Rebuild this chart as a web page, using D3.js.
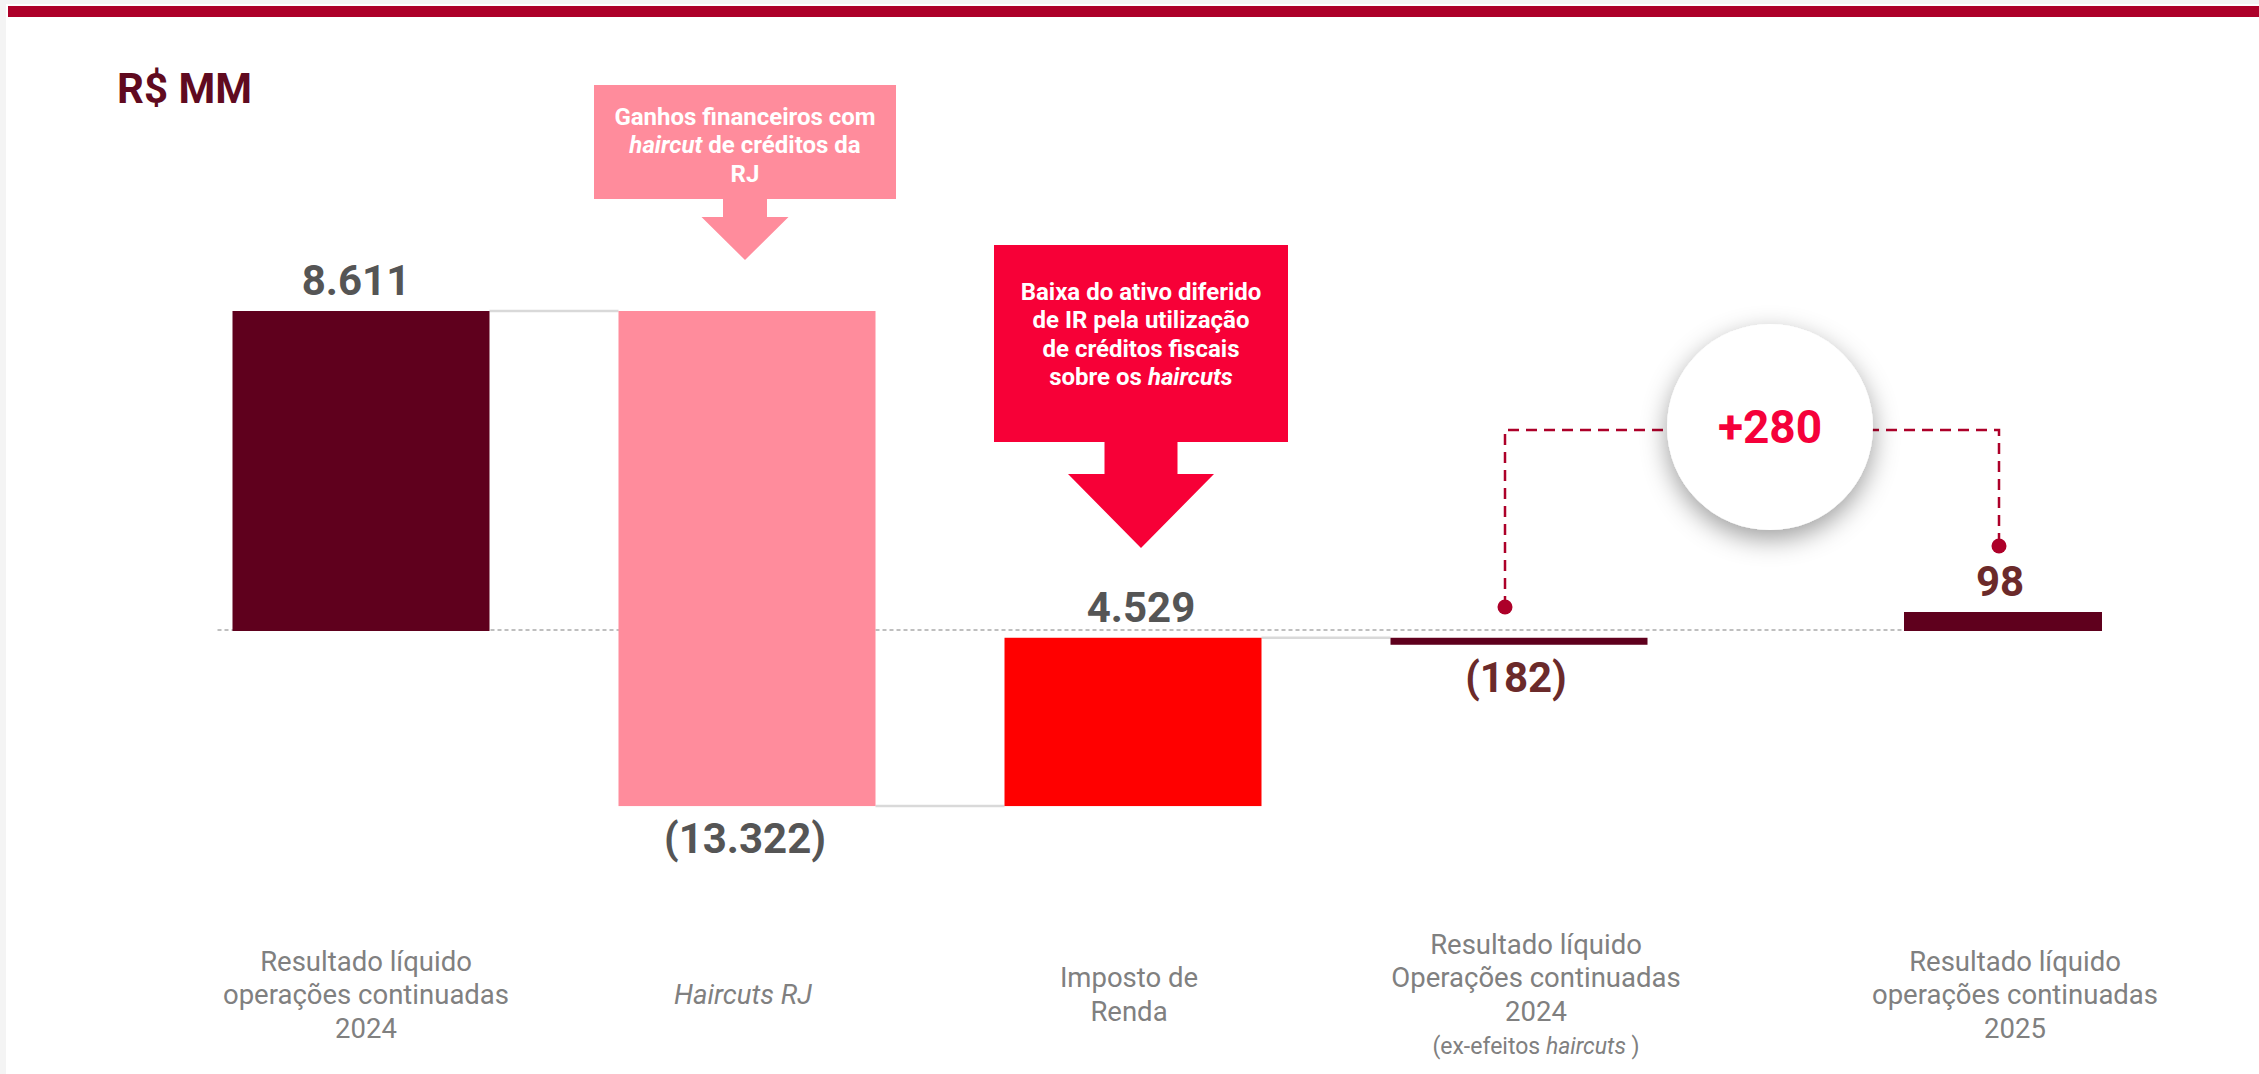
<!DOCTYPE html>
<html>
<head>
<meta charset="utf-8">
<script src="https://cdn.jsdelivr.net/npm/d3@7"></script>
<style>
  body { margin: 0; background: #f4f4f4; }
  svg { display: block; font-family: Roboto, "Open Sans", sans-serif; }
</style>
</head>
<body>
<svg id="chart-svg" width="2259" height="1074"></svg>
<script>
// Chart data (R$ MM)
const categories = ["res2024", "haircuts", "imposto", "res2024ex", "res2025"];
const values = [8611, -13322, 4529, -182, 98];
const barKinds = ["total", "delta", "delta", "total", "total"];

const categoryLabels = [
  ["Resultado líquido", "operações continuadas", "2024"],
  ["*Haircuts RJ*"],
  ["Imposto de", "Renda"],
  ["Resultado líquido", "Operações continuadas", "2024", "(ex-efeitos *haircuts* )"],
  ["Resultado líquido", "operações continuadas", "2025"]
];

const calloutTexts = [
  ["Ganhos financeiros com", "*haircut* de créditos da", "RJ"],
  ["Baixa do ativo diferido", "de IR pela utilização", "de créditos fiscais", "sobre os *haircuts*"]
];
const calloutCategories = ["haircuts", "imposto"];

const width = 2259;
const height = 1074;
const svg = d3.select("#chart-svg");

/**
 * Write a line of text where *words* are set in italic
 */
function richText(sel, line) {
  line.split("*").forEach((part, i) => {
    if (part === "") return;
    sel.append("tspan")
      .attr("font-style", i % 2 ? "italic" : "normal")
      .text(part);
  });
}

// Page frame and banner
svg.append("rect").attr("x", 6).attr("y", 4).attr("width", width).attr("height", height).attr("fill", "#fff");
svg.append("rect").attr("x", 8).attr("y", 6).attr("width", width).attr("height", 11).attr("fill", "#ad0029");

svg.append("text")
  .attr("x", 117).attr("y", 103)
  .attr("font-size", 42).attr("font-weight", 700)
  .attr("fill", "#600a20")
  .text("R$ MM");

// Scales
const x = d3.scaleOrdinal().domain(categories).range([361, 747, 1133, 1519, 2003]);
const barWidth = d3.scaleOrdinal().domain(categories).range([257, 257, 257, 257, 198]);
const minBarPx = d3.scaleOrdinal().domain(categories).range([0, 0, 0, 7, 19]);
const barColor = d3.scaleOrdinal().domain(categories).range(["#5f001d", "#ff8c9c", "#ff0000", "#5f001d", "#5f001d"]);
const labelColor = d3.scaleOrdinal().domain(categories).range(["#555555", "#555555", "#555555", "#6b2a2a", "#6b2a2a"]);
const valueShift = d3.scaleOrdinal().domain(categories).range([-5, -2, 8, -3, -3]);
const y = d3.scaleLinear().domain([0, d3.max(values)]).range([631, 311]);

const locale = d3.formatLocale({decimal: ",", thousands: ".", grouping: [3], currency: ["R$", ""]});
const fmt = locale.format(",d");
const fmtValue = v => v < 0 ? "(" + fmt(-v) + ")" : fmt(v);

// Waterfall steps
let running = 0;
const steps = values.map((v, i) => {
  const start = barKinds[i] === "delta" ? running : 0;
  const end = start + v;
  running = end;
  const span = Math.abs(y(end) - y(start));
  const h = Math.max(span, minBarPx(categories[i]));
  let top;
  if (end >= start) top = y(start) - h;
  else top = span < h ? y(end) : y(start);   // thin negative bars hang from their end level
  return {key: categories[i], value: v, start: start, end: end, top: top, bottom: top + h};
});

// Zero line
const first = categories[0], last = categories[categories.length - 1];
svg.append("line")
  .attr("x1", x(first) - barWidth(first) / 2 - 15)
  .attr("x2", x(last) + barWidth(last) / 2)
  .attr("y1", y(0) - 1).attr("y2", y(0) - 1)
  .attr("stroke", "#aaaaaa").attr("stroke-width", 1.5)
  .attr("stroke-dasharray", "4,3");

// Connectors between bars
svg.selectAll(".connector")
  .data(steps.slice(0, 3))
  .enter().append("line")
  .attr("class", "connector")
  .attr("x1", d => x(d.key) + barWidth(d.key) / 2)
  .attr("x2", (d, i) => x(steps[i + 1].key) - barWidth(steps[i + 1].key) / 2)
  .attr("y1", d => y(d.end)).attr("y2", d => y(d.end))
  .attr("stroke", "#d9d9d9").attr("stroke-width", 2.5);

// Bars
svg.selectAll(".bar")
  .data(steps)
  .enter().append("rect")
  .attr("class", "bar")
  .attr("x", d => x(d.key) - barWidth(d.key) / 2)
  .attr("width", d => barWidth(d.key))
  .attr("y", d => d.top)
  .attr("height", d => d.bottom - d.top)
  .attr("fill", d => barColor(d.key));

// Value labels
svg.selectAll(".value-label")
  .data(steps)
  .enter().append("text")
  .attr("class", "value-label")
  .attr("x", d => x(d.key) + valueShift(d.key))
  .attr("y", d => d.value < 0 ? d.bottom + 47 : d.top - 16)
  .attr("text-anchor", "middle")
  .attr("font-size", 42).attr("font-weight", 700)
  .attr("fill", d => labelColor(d.key))
  .text(d => fmtValue(d.value));

// Callout arrows
const calloutStyle = [
  {dx: -2, top: 85, w: 302, h: 114, stemW: 44, stemH: 18, headW: 87, headH: 43, fill: "#ff8c9c", firstLine: 40},
  {dx: 8, top: 245, w: 294, h: 197, stemW: 73, stemH: 32, headW: 146, headH: 74, fill: "#f70037", firstLine: 55}
];

calloutTexts.forEach((lines, i) => {
  const s = calloutStyle[i];
  const cx = x(calloutCategories[i]) + s.dx;
  const p = d3.path();
  p.moveTo(cx - s.w / 2, s.top);
  p.lineTo(cx + s.w / 2, s.top);
  p.lineTo(cx + s.w / 2, s.top + s.h);
  p.lineTo(cx + s.stemW / 2, s.top + s.h);
  p.lineTo(cx + s.stemW / 2, s.top + s.h + s.stemH);
  p.lineTo(cx + s.headW / 2, s.top + s.h + s.stemH);
  p.lineTo(cx, s.top + s.h + s.stemH + s.headH);
  p.lineTo(cx - s.headW / 2, s.top + s.h + s.stemH);
  p.lineTo(cx - s.stemW / 2, s.top + s.h + s.stemH);
  p.lineTo(cx - s.stemW / 2, s.top + s.h);
  p.lineTo(cx - s.w / 2, s.top + s.h);
  p.closePath();
  svg.append("path").attr("d", p.toString()).attr("fill", s.fill);

  lines.forEach((line, j) => {
    const t = svg.append("text")
      .attr("x", cx)
      .attr("y", s.top + s.firstLine + j * 28.3)
      .attr("text-anchor", "middle")
      .attr("font-size", 24).attr("font-weight", 700)
      .attr("fill", "#ffffff");
    richText(t, line);
  });
});

// Bracket between 2024 ex-haircuts and 2025
const defs = svg.append("defs");
const shadow = defs.append("filter").attr("id", "circle-shadow")
  .attr("x", "-50%").attr("y", "-50%").attr("width", "200%").attr("height", "200%");
shadow.append("feDropShadow")
  .attr("dx", 0).attr("dy", 9).attr("stdDeviation", 13)
  .attr("flood-color", "#000").attr("flood-opacity", 0.38);

const lx = x("res2024ex") - 14;
const rx = x("res2025") - 4;
const bracketY = 430;
const leftDotY = y(0) - 24;
const rightDotY = steps[4].top - 66;

svg.append("path")
  .attr("d", `M${lx},${leftDotY}V${bracketY}H${rx}V${rightDotY}`)
  .attr("fill", "none")
  .attr("stroke", "#ad0029").attr("stroke-width", 2.5)
  .attr("stroke-dasharray", "11,7");

svg.selectAll(".bracket-dot")
  .data([[lx, leftDotY], [rx, rightDotY]])
  .enter().append("circle")
  .attr("class", "bracket-dot")
  .attr("cx", d => d[0]).attr("cy", d => d[1]).attr("r", 7.5)
  .attr("fill", "#ad0029");

const ccx = (lx + rx) / 2 + 18;
svg.append("circle")
  .attr("cx", ccx).attr("cy", 427).attr("r", 103)
  .attr("fill", "#fff")
  .attr("filter", "url(#circle-shadow)");

svg.append("text")
  .attr("x", ccx).attr("y", 443)
  .attr("text-anchor", "middle")
  .attr("font-size", 46).attr("font-weight", 700)
  .attr("fill", "#f5003a")
  .text("+" + fmt(values[4] - values[3]));

// Category labels
const labelShift = d3.scaleOrdinal().domain(categories).range([5, -4, -4, 17, 12]);
categoryLabels.forEach((lines, i) => {
  const key = categories[i];
  const firstY = 1004 - (lines.length - 1) * 33.5 / 2;
  lines.forEach((line, j) => {
    const t = svg.append("text")
      .attr("x", x(key) + labelShift(key))
      .attr("y", firstY + j * 33.5)
      .attr("text-anchor", "middle")
      .attr("font-size", line.startsWith("(") ? 23 : 27.5)
      .attr("fill", "#808080");
    richText(t, line);
  });
});
</script>
</body>
</html>
